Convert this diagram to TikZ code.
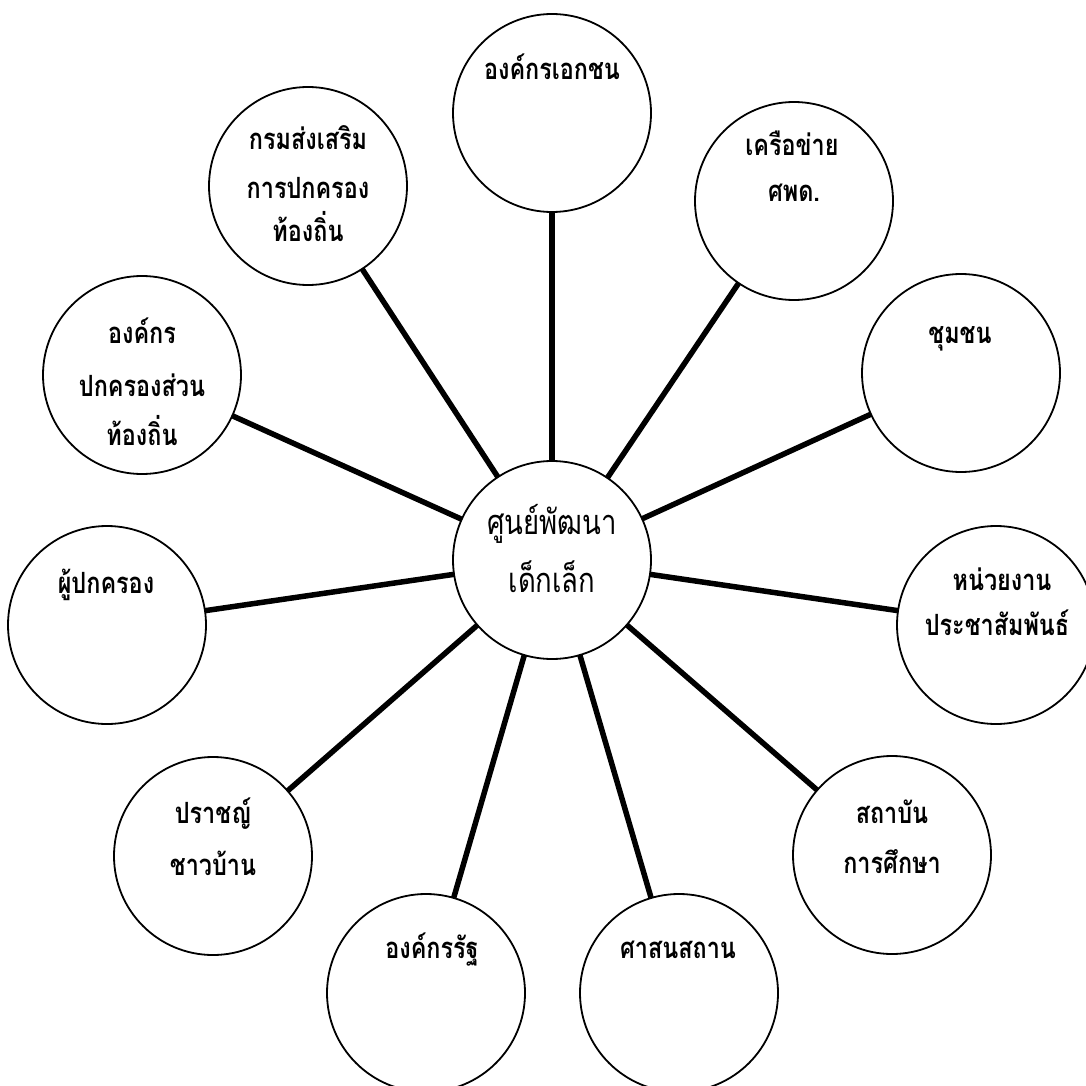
\documentclass[tikz,border=0pt]{standalone}
\usepackage{graphicx}
\usepackage{fontspec}
\newfontfamily\thaifont[Script=Thai]{Loma}
\newcommand{\tall}[1]{\scalebox{1}[1.25]{#1}}
\begin{document}
\begin{tikzpicture}[x=1pt,y=-1pt,
  bubble/.style={circle,draw,line width=1.8pt,minimum size=198pt,inner sep=0pt,outer sep=0pt,fill=white},
  lbl/.style={anchor=base,inner sep=0pt,font=\thaifont\bfseries\fontsize{23.4}{28}\selectfont},
  hublbl/.style={anchor=base,inner sep=0pt,font=\thaifont\fontsize{27.5}{33}\selectfont},
  link/.style={line width=5.5pt}]
\useasboundingbox (0,0) rectangle (1085,1086);
\node[bubble] (c) at (552,560) {};
\node[bubble] (n1) at (552,113) {};
\node[bubble] (n2) at (794,201) {};
\node[bubble] (n3) at (961,373) {};
\node[bubble] (n4) at (996,625) {};
\node[bubble] (n5) at (892,855) {};
\node[bubble] (n6) at (679,993) {};
\node[bubble] (n7) at (426,993) {};
\node[bubble] (n8) at (213,856) {};
\node[bubble] (n9) at (107,625) {};
\node[bubble] (n10) at (142,375) {};
\node[bubble] (n11) at (308,186) {};
\foreach \n in {n1,n2,n3,n4,n5,n6,n7,n8,n9,n10,n11}
  \draw[link] (c) -- (\n);
% hub text
\node[hublbl] (ct1) at (552,534) {\tall{ศูนย์พัฒนา}};
\node[hublbl] (ct2) at (552,592) {\tall{เด็กเล็ก}};
% outer texts
\node[lbl] (t1) at (552,80) {\tall{องค์กรเอกชน}};
\node[lbl] (t2a) at (792,156) {\tall{เครือข่าย}};
\node[lbl] (t2b) at (794,201) {\tall{ศพด.}};
\node[lbl] (t3) at (960,343) {\tall{ชุมชน}};
\node[lbl] (t4a) at (1002,590) {\tall{หน่วยงาน}};
\node[lbl] (t4b) at (997,635) {\tall{ประชาสัมพันธ์}};
\node[lbl] (t5a) at (892,823) {\tall{สถาบัน}};
\node[lbl] (t5b) at (892,873) {\tall{การศึกษา}};
\node[lbl] (t6) at (678,958) {\tall{ศาสนสถาน}};
\node[lbl] (t7) at (432,958) {\tall{องค์กรรัฐ}};
\node[lbl] (t8a) at (213,823) {\tall{ปราชญ์}};
\node[lbl] (t8b) at (213,875) {\tall{ชาวบ้าน}};
\node[lbl] (t9) at (106,593) {\tall{ผู้ปกครอง}};
\node[lbl] (t10a) at (142,343) {\tall{องค์กร}};
\node[lbl] (t10b) at (142,396) {\tall{ปกครองส่วน}};
\node[lbl] (t10c) at (142,445) {\tall{ท้องถิ่น}};
\node[lbl] (t11a) at (308,150) {\tall{กรมส่งเสริม}};
\node[lbl] (t11b) at (308,198) {\tall{การปกครอง}};
\node[lbl] (t11c) at (308,241) {\tall{ท้องถิ่น}};
\end{tikzpicture}
\end{document}
